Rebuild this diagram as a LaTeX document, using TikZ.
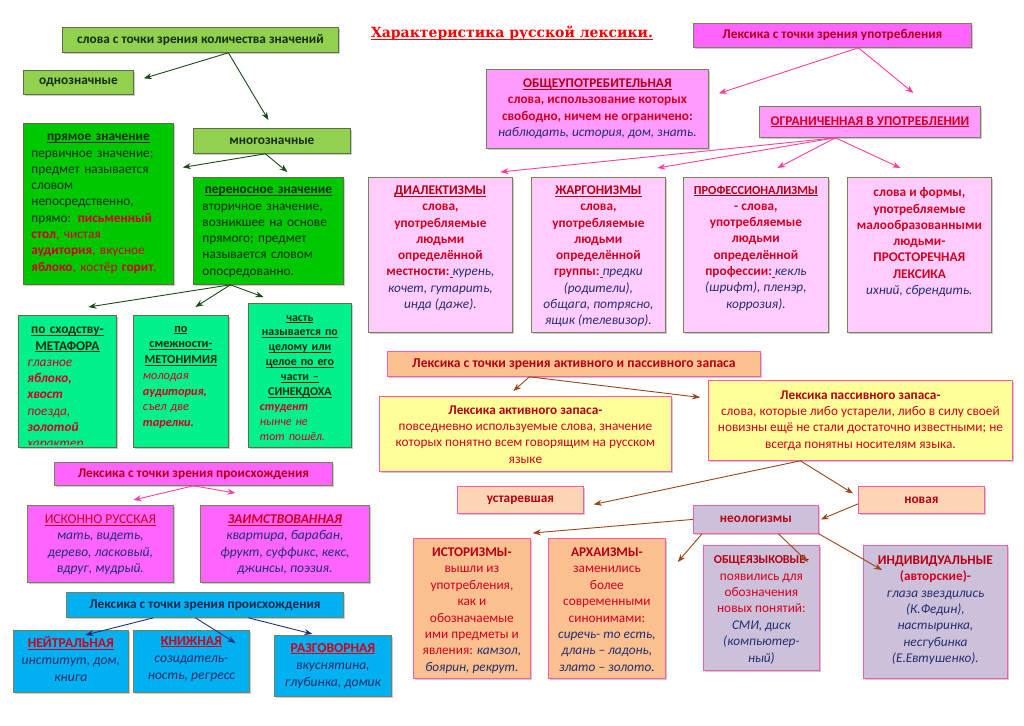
\documentclass[tikz,border=0pt]{standalone}
\usepackage{fontspec}
\setmainfont{Carlito}
\newfontfamily\titlefont{DejaVu Serif}
\usetikzlibrary{arrows.meta,positioning,shadows}
\definecolor{lgreen}{RGB}{146,208,80}
\definecolor{dgreen}{RGB}{0,200,0}
\definecolor{mint}{RGB}{0,240,140}
\definecolor{gborder}{RGB}{95,110,70}
\definecolor{gtext}{RGB}{20,45,20}
\definecolor{garrow}{RGB}{25,75,25}
\definecolor{magent}{RGB}{255,100,255}
\definecolor{pinkbox}{RGB}{255,155,255}
\definecolor{lpink}{RGB}{255,204,255}
\definecolor{pborder}{RGB}{120,130,90}
\definecolor{parrow}{RGB}{255,60,160}
\definecolor{redtxt}{RGB}{210,0,30}
\definecolor{dredtxt}{RGB}{180,0,20}
\definecolor{navytxt}{RGB}{35,45,110}
\definecolor{navyhd}{RGB}{20,40,80}
\definecolor{salmon}{RGB}{250,192,144}
\definecolor{peach}{RGB}{252,213,180}
\definecolor{lyellow}{RGB}{255,255,153}
\definecolor{lavend}{RGB}{204,192,218}
\definecolor{hotpink}{RGB}{255,90,170}
\definecolor{brarrow}{RGB}{150,70,25}
\definecolor{skyb}{RGB}{0,176,240}
\definecolor{barrow}{RGB}{35,45,120}
\definecolor{titred}{RGB}{255,0,0}
\newcommand\undl[1]{\underline{\raisebox{0pt}[\height][0pt]{#1}}}
\newcommand\navit[1]{\textcolor{navytxt}{\mdseries\itshape #1}}

\begin{document}
\begin{tikzpicture}[x=1pt,y=-1pt,
  sz/.style 2 args={minimum width=#1pt,minimum height=#2pt},
  frame/.style={draw,anchor=north west,inner sep=0pt,line width=0.8pt,align=center,
    font=\fontsize{13.3}{16.3}\selectfont\bfseries,
    drop shadow={shadow xshift=1.3pt,shadow yshift=-1.3pt,fill=black!45,opacity=.45}},
  lgr/.style={frame,fill=lgreen,draw=gborder,text=gtext},
  dgr/.style={frame,fill=dgreen,draw=gborder},
  mnt/.style={frame,fill=mint,draw=gborder},
  mag/.style={frame,fill=magent,draw=pborder,text=dredtxt},
  pnk/.style={frame,fill=pinkbox,draw=pborder,text=dredtxt},
  lpk/.style={frame,fill=lpink,draw=pborder},
  sal/.style={frame,fill=salmon,draw=hotpink,text=dredtxt},
  pch/.style={frame,fill=peach,draw=hotpink,text=dredtxt},
  yel/.style={frame,fill=lyellow,draw=hotpink},
  lav/.style={frame,fill=lavend,draw=hotpink,text=dredtxt},
  sky/.style={frame,fill=skyb,draw=pborder,text=navyhd},
  txc/.style={inner sep=0pt,align=center,font=\fontsize{13.3}{16.3}\selectfont},
  txb/.style={inner sep=0pt,align=center,font=\fontsize{13.3}{16.3}\selectfont\bfseries},
  txl/.style={inner sep=0pt,align=left,font=\fontsize{13.3}{16.3}\selectfont},
  ga/.style={garrow,line width=0.9pt,-{Stealth[length=8pt,width=6pt]}},
  pa/.style={parrow,line width=0.9pt,-{Stealth[length=8pt,width=6pt]}},
  ba/.style={brarrow,line width=0.9pt,-{Stealth[length=8pt,width=6pt]}},
  na/.style={barrow,line width=0.9pt,-{Stealth[length=8pt,width=6pt]}}]
  \fill[white] (0,0) rectangle (1024,725);
  \useasboundingbox (0,0) rectangle (1024,725);

  \node[text=titred,font=\titlefont\fontsize{14}{17}\selectfont\bfseries] (title) at (512,33)
    {\undl{Характеристика русской лексики.}};

  \node[lgr,sz={276}{25}] (zn) at (62,27) {слова с точки зрения количества значений};
  \node[lgr,sz={110}{24}] (odn) at (23,70) {однозначные};
  \node[lgr,sz={157}{25}] (mnog) at (193,128) {многозначные};
  \node[dgr,sz={150}{161}] (prm) at (23,123) {};
  \node[txl,text=gtext,text width=134pt,below=11pt of prm.north] (prm-t)
    {{\centering\textbf{\undl{прямое значение}}\par}первичное значение;\\предмет называется\\словом\\непосредственно,\\прямо: \textcolor{redtxt}{\textbf{письменный}}\\\textcolor{redtxt}{\textbf{стол}, чистая}\\\textcolor{redtxt}{\textbf{аудитория}, вкусное}\\\textcolor{redtxt}{\textbf{яблоко}, костёр \textbf{горит}.}};
  \node[dgr,sz={150}{107}] (per) at (193,177) {};
  \node[txl,text=gtext,text width=132pt,below=10pt of per.north] (per-t)
    {{\centering\textbf{\undl{переносное значение}}\par}вторичное значение,\\возникшее на основе\\прямого; предмет\\называется словом\\опосредованно.};
  \node[mnt,sz={98}{132}] (met) at (18,315) {};
  \node[mnt,sz={95}{132}] (metn) at (133,315) {};
  \node[mnt,sz={103}{144}] (sin) at (248,303) {};
  \begin{scope}
    \clip ([xshift=1pt]met.north west) rectangle ([yshift=3pt]met.south east);
    \node[txl,text=redtxt,text width=80pt,below=12pt of met.north] (met-t)
      {{\centering\color{gtext}\bfseries\undl{по сходству-}\\\undl{МЕТАФОРА}\par}\itshape глазное\\\textbf{яблоко,}\\\textbf{хвост}\\поезда,\\\textbf{золотой}\\характер};
  \end{scope}
  \node[txl,text=redtxt,font=\fontsize{12.3}{15.7}\selectfont,text width=76pt,below=11pt of metn.north] (metn-t)
    {{\centering\color{gtext}\bfseries\undl{по}\\\undl{смежности-}\\\undl{МЕТОНИМИЯ}\par}\itshape молодая\\\textbf{аудитория,}\\съел две\\\textbf{тарелки.}};
  \node[txl,text=redtxt,font=\fontsize{11.9}{14.9}\selectfont,text width=80pt,below=12pt of sin.north] (sin-t)
    {{\centering\color{gtext}\bfseries\undl{часть}\\\undl{называется по}\\\undl{целому или}\\\undl{целое по его}\\\undl{части –}\\\undl{СИНЕКДОХА}\par}\itshape\textbf{студент}\\нынче не\\тот пошёл.};

  \node[mag,sz={278}{24}] (upo) at (693,23) {Лексика с точки зрения употребления};
  \node[pnk,sz={222}{79}] (obsh) at (486,69) {};
  \node[txb,text=redtxt,below=9.5pt of obsh.north] (obsh-t)
    {\textcolor{dredtxt}{\undl{ОБЩЕУПОТРЕБИТЕЛЬНАЯ}}\\слова, использование которых\\свободно, ничем не ограничено:\\\navit{наблюдать, история, дом, знать.}};
  \node[pnk,text=redtxt,sz={221}{31}] (ogr) at (759,106) {\undl{ОГРАНИЧЕННАЯ В УПОТРЕБЛЕНИИ}};
  \node[lpk,sz={144}{155}] (dial) at (368,177) {};
  \node[lpk,sz={134}{155}] (zharg) at (531,177) {};
  \node[lpk,sz={145}{155}] (prof) at (683,177) {};
  \node[lpk,sz={144}{155}] (prost) at (847,177) {};
  \node[txb,text=redtxt,below=8.5pt of dial.north] (dial-t)
    {\textcolor{dredtxt}{\undl{ДИАЛЕКТИЗМЫ}}\\слова,\\употребляемые\\людьми\\определённой\\местности:\undl{\hspace{3pt}}\navit{курень,}\\\navit{кочет, гутарить,}\\\navit{инда (даже).}};
  \node[txb,text=redtxt,below=8.5pt of zharg.north] (zharg-t)
    {\textcolor{dredtxt}{\undl{ЖАРГОНИЗМЫ}}\\слова,\\употребляемые\\людьми\\определённой\\группы:\undl{\hspace{3pt}}\navit{предки}\\\navit{(родители),}\\\navit{общага, потрясно,}\\\navit{ящик (телевизор).}};
  \node[txb,text=redtxt,below=8.5pt of prof.north] (prof-t)
    {\textcolor{dredtxt}{\fontsize{12.3}{16.3}\selectfont\undl{ПРОФЕССИОНАЛИЗМЫ}}\\- слова,\\употребляемые\\людьми\\определённой\\профессии:\undl{\hspace{3pt}}\navit{кекль}\\\navit{(шрифт), пленэр,}\\\navit{коррозия).}};
  \node[txb,text=redtxt,below=10.5pt of prost.north] (prost-t)
    {слова и формы,\\употребляемые\\малообразованными\\людьми-\\ПРОСТОРЕЧНАЯ\\ЛЕКСИКА\\\navit{ихний, сбрендить.}};

  \node[sal,font=\fontsize{13.6}{16.3}\selectfont\bfseries,sz={373}{25}] (ak) at (387,351) {Лексика с точки зрения активного и пассивного запаса};
  \node[yel,sz={292}{75}] (act) at (379,396) {};
  \node[txc,text=redtxt,below=9.5pt of act.north] (act-t)
    {\textcolor{dredtxt}{\textbf{Лексика активного запаса-}}\\повседневно используемые слова, значение\\которых понятно всем говорящим на русском\\языке};
  \node[yel,sz={304}{80}] (pas) at (708,380) {};
  \node[txc,text=redtxt,below=10.5pt of pas.north] (pas-t)
    {\textcolor{dredtxt}{\textbf{Лексика пассивного запаса-}}\\слова, которые либо устарели, либо в силу своей\\новизны ещё не стали достаточно известными; не\\всегда понятны носителям языка.};
  \node[pch,sz={126}{27}] (ust) at (457,486) {устаревшая};
  \node[pch,sz={126}{27}] (nov) at (858,486) {новая};
  \node[lav,sz={125}{28}] (neo) at (693,505) {неологизмы};
  \node[sal,sz={117}{140}] (ist) at (413,538) {};
  \node[sal,sz={117}{140}] (arh) at (548,538) {};
  \node[lav,sz={116}{125}] (obj) at (703,545) {};
  \node[lav,sz={144}{133}] (ind) at (863,545) {};
  \node[txc,text=redtxt,font=\fontsize{13.3}{16.4}\selectfont,below=9.5pt of ist.north] (ist-t)
    {\textcolor{dredtxt}{\textbf{ИСТОРИЗМЫ-}}\\вышли из\\употребления,\\как и\\обозначаемые\\ими предметы и\\явления: \navit{камзол,}\\\navit{боярин, рекрут.}};
  \node[txc,text=redtxt,font=\fontsize{13.3}{16.4}\selectfont,below=9.5pt of arh.north] (arh-t)
    {\textcolor{dredtxt}{\textbf{АРХАИЗМЫ-}}\\заменились\\более\\современными\\синонимами:\\\navit{сиречь- то есть,}\\\navit{длань – ладонь,}\\\navit{злато – золото.}};
  \node[txc,text=redtxt,font=\fontsize{13.3}{16.4}\selectfont,below=10.5pt of obj.north] (obj-t)
    {\textcolor{dredtxt}{\fontsize{12.1}{16.4}\selectfont\textbf{ОБЩЕЯЗЫКОВЫЕ-}}\\появились для\\обозначения\\новых понятий:\\\navit{СМИ, диск}\\\navit{(компьютер-}\\\navit{ный)}};
  \node[txc,text=redtxt,font=\fontsize{13.3}{16.4}\selectfont,below=10.5pt of ind.north] (ind-t)
    {\textcolor{dredtxt}{\textbf{ИНДИВИДУАЛЬНЫЕ}}\\\textbf{(авторские)-}\\\navit{глаза звездились}\\\navit{(К.Федин),}\\\navit{настыринка,}\\\navit{несгубинка}\\\navit{(Е.Евтушенко).}};

  \node[mag,sz={278}{23}] (pr1) at (54,462) {Лексика с точки зрения происхождения};
  \node[mag,sz={146}{77}] (isk) at (27,505) {};
  \node[mag,sz={169}{77}] (zaim) at (200,505) {};
  \node[txc,font=\fontsize{13.5}{16.3}\selectfont,below=9.5pt of isk.north] (isk-t)
    {\textcolor{redtxt}{\undl{ИСКОННО РУССКАЯ}}\\\navit{мать, видеть,}\\\navit{дерево, ласковый,}\\\navit{вдруг, мудрый.}};
  \node[txc,font=\fontsize{13.5}{16.3}\selectfont,below=9.5pt of zaim.north] (zaim-t)
    {\textcolor{redtxt}{\bfseries\itshape\undl{ЗАИМСТВОВАННАЯ}}\\\navit{квартира, барабан,}\\\navit{фрукт, суффикс, кекс,}\\\navit{джинсы, поэзия.}};

  \node[sky,sz={277}{25}] (pr2) at (66,592) {Лексика с точки зрения происхождения};
  \node[sky,sz={115}{62}] (neu) at (13,630) {};
  \node[sky,sz={116}{62}] (kn) at (133,630) {};
  \node[sky,sz={117}{61}] (raz) at (274,635) {};
  \node[txc,font=\fontsize{13.6}{17}\selectfont,below=6pt of neu.north] (neu-t)
    {\textcolor{redtxt}{\bfseries\undl{НЕЙТРАЛЬНАЯ}}\\\navit{институт, дом,}\\\navit{книга}};
  \node[txc,font=\fontsize{13.6}{17}\selectfont,below=6pt of kn.north] (kn-t)
    {\textcolor{redtxt}{\bfseries\undl{КНИЖНАЯ}}\\\navit{созидатель-}\\\navit{ность, регресс}};
  \node[txc,font=\fontsize{13.6}{17}\selectfont,below=8pt of raz.north] (raz-t)
    {\textcolor{redtxt}{\bfseries\undl{РАЗГОВОРНАЯ}}\\\navit{вкуснятина,}\\\navit{глубинка, домик}};

  \draw[ga] ([xshift=28pt]zn.south) -- ([xshift=10pt,yshift=4pt]odn.east);
  \draw[ga] ([xshift=28pt]zn.south) -- ([xshift=-3.5pt,yshift=8pt]mnog.north);
  \draw[ga] ([xshift=-6.5pt]mnog.south) -- ([xshift=9pt,yshift=36.5pt]prm.east);
  \draw[ga] ([xshift=-6.5pt]mnog.south) -- ([xshift=19pt,yshift=5pt]per.north);
  \foreach \t/\dx/\dy in {met/21/8,metn/14.5/8,sin/-36.5/6}
    \draw[ga] ([xshift=-38pt]per.south) -- ([xshift=\dx pt,yshift=\dy pt]\t.north);

  \draw[pa] ([xshift=26pt]upo.south) -- ([xshift=10pt,yshift=15.5pt]obsh.east);
  \draw[pa] ([xshift=26pt]upo.south) -- ([xshift=43.5pt,yshift=13pt]ogr.north);
  \foreach \t/\dx/\dy in {dial/60/5,zharg/59/9,prof/21.5/9,prost/-19/9}
    \draw[pa] ([xshift=-34.5pt]ogr.south) -- ([xshift=\dx pt,yshift=\dy pt]\t.north);

  \draw[ba] ([xshift=-44.5pt]ak.south) -- ([xshift=-12pt,yshift=5pt]act.north);
  \draw[ba] ([xshift=-44.5pt]ak.south) -- ([xshift=-8pt,yshift=23pt]pas.west);
  \draw[ba] ([xshift=-60pt]pas.south) -- ([xshift=10pt,yshift=-4.5pt]ust.east);
  \draw[ba] ([xshift=-60pt]pas.south) -- ([xshift=-5pt,yshift=6.5pt]nov.west);
  \draw[ba] ([yshift=-4pt]nov.west) -- ([xshift=2pt]neo.east);
  \draw[ba] (neo.west) -- ([xshift=2pt,yshift=5pt]ist.north east);
  \draw[ba] ([xshift=9pt]neo.south west) -- ([xshift=12pt,yshift=-24pt]arh.north east);
  \draw[ba] ([xshift=22.5pt]neo.south) -- ([xshift=-12pt,yshift=-17pt]obj.north east);
  \draw[ba] (neo.south east) -- ([xshift=19pt,yshift=-25pt]ind.north west);

  \draw[pa] (pr1.south) -- ([xshift=33pt,yshift=5pt]isk.north);
  \draw[pa] (pr1.south) -- ([xshift=-49.5pt,yshift=12pt]zaim.north);

  \draw[na] ([xshift=-51.5pt]pr2.south) -- ([xshift=14.5pt,yshift=-5pt]neu.north);
  \draw[na] ([xshift=-9.5pt]pr2.south) -- ([xshift=44pt,yshift=-13pt]kn.north);
  \draw[na] ([xshift=43.5pt]pr2.south) -- ([xshift=-20.5pt,yshift=1pt]raz.north);
\end{tikzpicture}
\end{document}
